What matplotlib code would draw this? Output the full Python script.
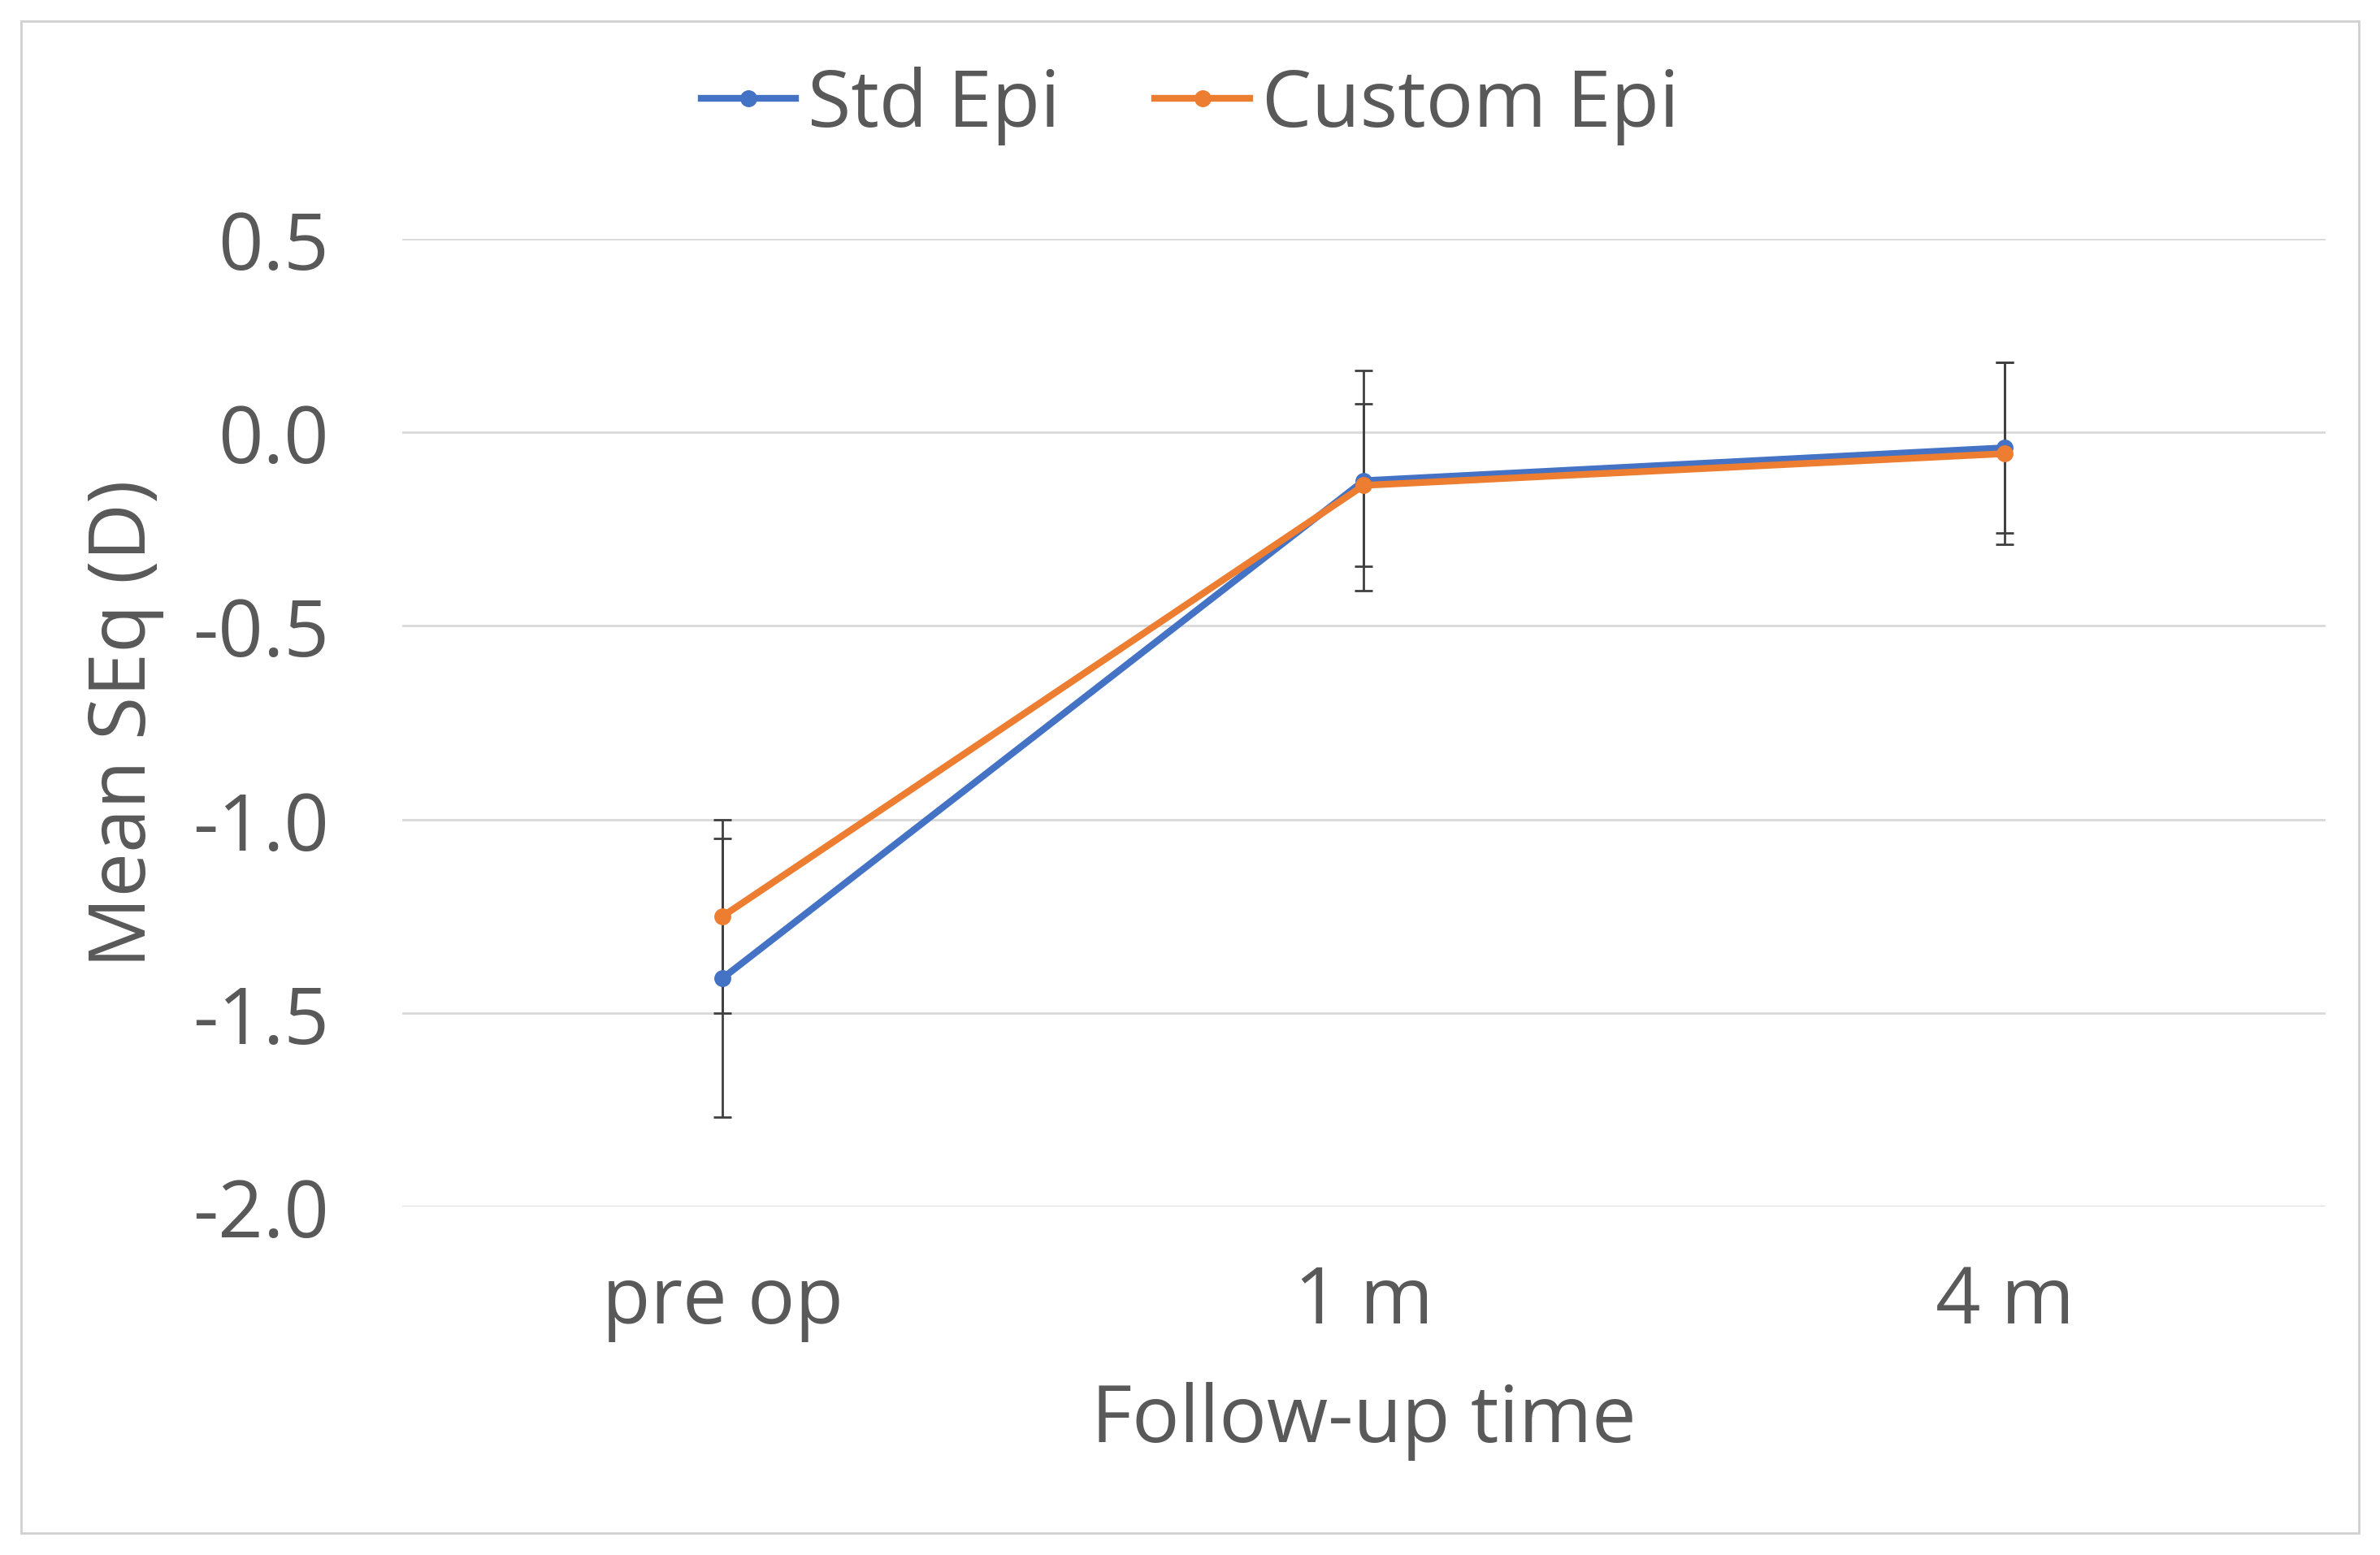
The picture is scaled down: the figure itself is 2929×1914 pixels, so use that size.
import matplotlib.pyplot as plt
from matplotlib.patches import Rectangle
from matplotlib.lines import Line2D

plt.rcParams['font.family'] = ['Open Sans', 'DejaVu Sans']

categories = ['pre op', '1 m', '4 m']
std_epi = [-1.41, -0.125, -0.04]
std_err = [0.36, 0.285, 0.22]
custom_epi = [-1.25, -0.137, -0.055]
custom_err = [0.25, 0.21, 0.235]

fig = plt.figure(figsize=(29.29, 19.15), dpi=100)
ax = fig.add_axes([0.169, 0.224, 0.808, 0.622])
fig.patches.append(Rectangle((0.009, 0.014), 0.982, 0.972, transform=fig.transFigure,
                             fill=False, edgecolor='#d0d0d0', linewidth=2))

xs = [0.5, 1.5, 2.5]
ax.errorbar(xs, std_epi, yerr=std_err, color='#4472c4', ecolor='#404040', elinewidth=2,
            capsize=8, capthick=2, linewidth=6, marker='o', markersize=14)
ax.errorbar(xs, custom_epi, yerr=custom_err, color='#ed7d31', ecolor='#404040', elinewidth=2,
            capsize=8, capthick=2, linewidth=6, marker='o', markersize=14)

ax.set_xlim(0, 3)
ax.set_ylim(-2.0, 0.5)
ax.set_yticks([-2.0, -1.5, -1.0, -0.5, 0.0, 0.5])
ax.set_yticklabels(['-2.0', '-1.5', '-1.0', '-0.5', '0.0', '0.5'])
ax.set_xticks(xs)
ax.set_xticklabels(categories)
ax.grid(axis='y', color='#d9d9d9', linewidth=2)
ax.set_axisbelow(True)
for s in ax.spines.values():
    s.set_visible(False)
ax.tick_params(length=0, labelsize=70, labelcolor='#595959', pad=50)
ax.tick_params(axis='y', pad=65)
ax.set_xlabel('Follow-up time', fontsize=70, color='#595959', labelpad=35)
ax.set_ylabel('Mean SEq (D)', fontsize=70, color='#595959', labelpad=25)

handles = [Line2D([], [], color='#4472c4', linewidth=6, marker='o', markersize=14),
           Line2D([], [], color='#ed7d31', linewidth=6, marker='o', markersize=14)]
fig.legend(handles, ['Std Epi', 'Custom Epi'], loc='center', bbox_to_anchor=(0.5, 0.932),
           ncol=2, frameon=False, fontsize=70, labelcolor='#595959', handlelength=1.2,
           handletextpad=0.15, columnspacing=1.2)

fig.savefig('out.png')
